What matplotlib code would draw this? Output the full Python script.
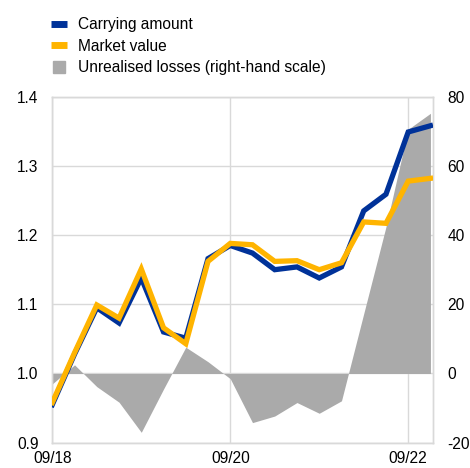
import matplotlib
matplotlib.use("Agg")
import matplotlib.pyplot as plt
from matplotlib.lines import Line2D
import numpy as np

plt.rcParams['font.family'] = ['Liberation Sans', 'DejaVu Sans']
plt.rcParams['font.size'] = 11.2
plt.rcParams['axes.unicode_minus'] = False

# quarterly observations, 09/18 .. 12/22
quarters = ['09/18', '12/18', '03/19', '06/19', '09/19', '12/19', '03/20', '06/20', '09/20',
            '12/20', '03/21', '06/21', '09/21', '12/21', '03/22', '06/22', '09/22', '12/22']
carrying = [0.955, 1.028, 1.095, 1.073, 1.138, 1.060, 1.051, 1.166, 1.185,
            1.174, 1.150, 1.154, 1.138, 1.154, 1.235, 1.259, 1.349, 1.358]
market = [0.958, 1.030, 1.099, 1.080, 1.151, 1.066, 1.043, 1.162, 1.188,
          1.186, 1.162, 1.163, 1.150, 1.160, 1.219, 1.217, 1.278, 1.282]
losses = [-3.0, 2.5, -3.8, -8.3, -17.0, -4.5, 7.6, 3.4, -1.5,
          -14.2, -12.3, -8.4, -11.5, -7.9, 17.3, 42.4, 70.6, 75.2]
tick_labels = ['09/18', '09/20', '09/22']

blue = '#003299'
yellow = '#ffb400'
grey = '#aaaaaa'
gridc = '#d9d9d9'

x = np.arange(len(quarters))
tick_pos = [quarters.index(t) for t in tick_labels]

fig = plt.figure(figsize=(4.70, 4.68), dpi=100)
ax2 = fig.add_axes([0.1113, 0.0541, 0.8107, 0.7393])
ax = ax2.twinx()

# grey area (right-hand scale) in the back, grid below it
ax2.fill_between(x, 0, losses, color=grey, linewidth=0, zorder=2)
ax2.set_ylim(-20, 80)
ax2.set_yticks(range(-20, 81, 20))
ax2.yaxis.tick_right()
ax2.set_xlim(0, 17.13)
ax2.set_xticks(tick_pos)
ax2.set_xticklabels(tick_labels)
ax2.grid(True, color=gridc, linewidth=1, zorder=0)
ax2.set_axisbelow(True)

# lines on the left-hand scale
ax.set_zorder(ax2.get_zorder() + 1)
ax.patch.set_visible(False)
ax.plot(x, carrying, color=blue, lw=3.8, solid_joinstyle='miter', zorder=3)
ax.plot(x, market, color=yellow, lw=3.8, solid_joinstyle='miter', zorder=4)
ax.set_ylim(0.9, 1.4)
ax.set_yticks([0.9, 1.0, 1.1, 1.2, 1.3, 1.4])
ax.set_yticklabels(['0.9', '1.0', '1.1', '1.2', '1.3', '1.4'])
ax.yaxis.tick_left()

for a in (ax, ax2):
    for s in a.spines.values():
        s.set_color(gridc)
        s.set_linewidth(1)
    a.tick_params(length=0)
ax.tick_params(axis='y', pad=10)
ax2.tick_params(axis='y', pad=10)
ax2.tick_params(axis='x', pad=6)

handles = [Line2D([], [], color=blue, lw=5, solid_capstyle='butt'),
           Line2D([], [], color=yellow, lw=5, solid_capstyle='butt'),
           Line2D([], [], marker='s', color=grey, markersize=8.6, linestyle='none')]
labels = ['Carrying amount', 'Market value', 'Unrealised losses (right-hand scale)']
fig.legend(handles, labels, loc='upper left', bbox_to_anchor=(0.1085, 0.963),
           frameon=False, borderpad=0, borderaxespad=0, handlelength=1.03,
           handletextpad=0.7, labelspacing=0.42, fontsize=11.2)

fig.savefig('out.png', dpi=100)
